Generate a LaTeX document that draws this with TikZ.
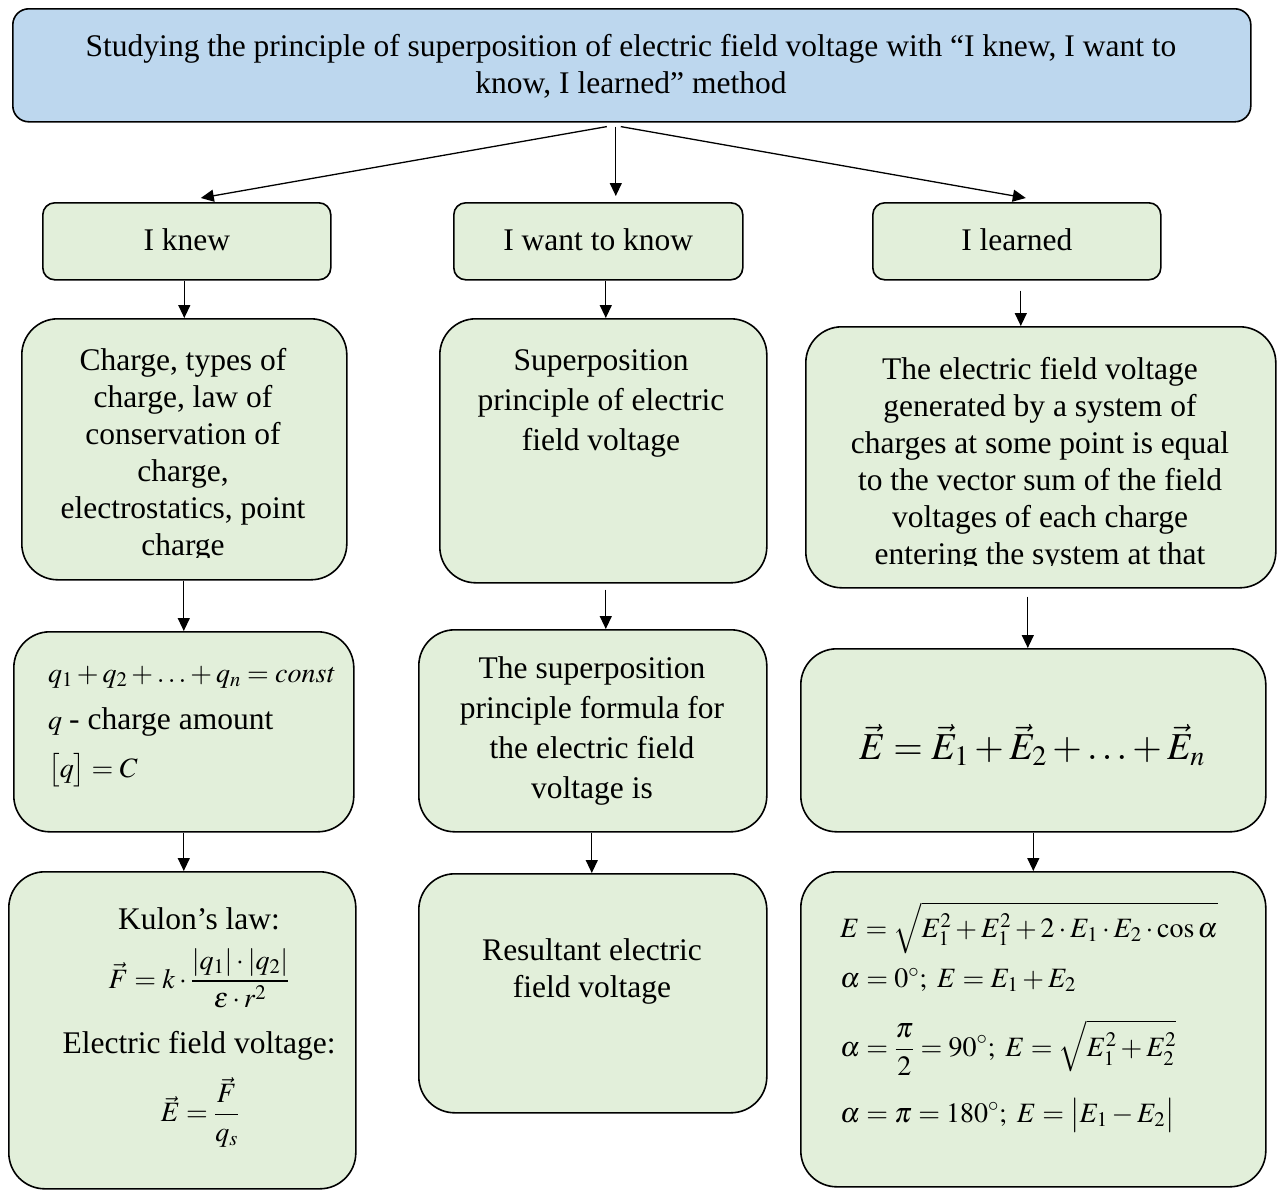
\documentclass[tikz,border=0pt]{standalone}
\usepackage{mathptmx}
\usepackage{fontspec}
\setmainfont{Liberation Serif}
\usetikzlibrary{arrows.meta,calc}
\definecolor{gfill}{RGB}{226,239,218}
\definecolor{bfill}{RGB}{189,215,238}
\begin{document}
\begin{tikzpicture}[x=1pt,y=-1pt,
  box/.style={draw=black, line width=1.6pt, fill=gfill, rounded corners=36pt, inner sep=0pt, anchor=north west},
  hbox/.style={box, rounded corners=12pt},
  txt/.style={align=center, inner sep=0pt, font=\fontsize{31.5}{37}\selectfont},
  txtw/.style={align=center, inner sep=0pt, font=\fontsize{31.5}{40}\selectfont},
  mth/.style={inner sep=0pt, anchor=west, font=\fontsize{28}{34}\selectfont},
  arr/.style={line width=1.3pt, -{Triangle[length=13pt,width=12pt]}}]
\useasboundingbox (0,0) rectangle (1277,1189);
% title
\node[box, fill=bfill, rounded corners=16pt, minimum width=1238pt, minimum height=113pt] (title) at (12,8) {};
\node[txt] (titlet) at (631,66) {Studying the principle of superposition of electric field voltage with “I knew, I want to\\know, I learned” method};
% headers
\node[hbox, minimum width=288pt, minimum height=77pt] (knew) at (42,202) {};
\node[txt] (knewt) at ([yshift=2pt]knew.center) {I knew};
\node[hbox, minimum width=289pt, minimum height=77pt] (want) at (453,202) {};
\node[txt] (wantt) at ([yshift=2pt]want.center) {I want to know};
\node[hbox, minimum width=288pt, minimum height=77pt] (learned) at (872,202) {};
\node[txt] (learnedt) at ([yshift=2pt]learned.center) {I learned};
% row 2
\node[box, minimum width=325pt, minimum height=261pt] (k2) at (21,318) {};
\node[box, minimum width=327pt, minimum height=264pt] (w2) at (439,318) {};
\node[box, minimum width=470pt, minimum height=261pt] (l2) at (805,326) {};
\begin{scope}
\clip (21,318) rectangle (346,557);
\node[txt] (k2t) at (183,455) {Charge, types of\\charge, law of\\conservation of\\charge,\\electrostatics, point\\charge};
\end{scope}
\node[txtw] (w2t) at (601,403) {Superposition\\principle of electric\\field voltage};
\begin{scope}
\clip (805,326) rectangle (1275,565);
\node[txt] (l2t) at (1040,464) {The electric field voltage\\generated by a system of\\charges at some point is equal\\to the vector sum of the field\\voltages of each charge\\entering the system at that};
\end{scope}
% row 3
\node[box, minimum width=340pt, minimum height=200pt] (k3) at (13,631) {};
\node[box, minimum width=348pt, minimum height=202pt] (w3) at (418,629) {};
\node[box, minimum width=465pt, minimum height=183pt] (l3) at (800,648) {};
\node[mth] (k3a) at (48,677) {$q_1+q_2+\ldots+q_n=\mathit{const}$};
\node[mth] (k3b) at (48,722) {$q$\ {\fontsize{31.5}{37}\selectfont - charge amount}};
\node[mth] (k3c) at (48,770) {$\bigl[q\bigr]=C$};
\node[txtw] (w3t) at (592,731) {The superposition\\principle formula for\\the electric field\\voltage is};
\node[inner sep=0pt, font=\fontsize{38}{44}\selectfont] (l3t) at (1032,745) {$\vec E=\vec E_1+\vec E_2+\ldots+\vec E_n$};
% row 4
\node[box, minimum width=347pt, minimum height=317pt] (k4) at (8,871) {};
\node[box, minimum width=348pt, minimum height=239pt] (w4) at (418,873) {};
\node[box, minimum width=465pt, minimum height=315pt] (l4) at (800,871) {};
\node[txt] (k4a) at (199,919) {Kulon’s law:};
\node[mth, anchor=center] (k4b) at (199,978) {$\displaystyle \vec F=k\cdot\frac{|q_1|\cdot|q_2|}{\varepsilon\cdot r^2}$};
\node[txt] (k4c) at (199,1046) {Electric field voltage:};
\node[mth, anchor=center] (k4d) at (200,1112) {$\displaystyle \vec E=\frac{\vec F}{q_s}$};
\node[txt] (w4t) at (592,971) {Resultant electric\\field voltage};
\node[mth] (l4a) at (840,928) {$E=\sqrt{E_1^2+E_1^2+2\cdot E_1\cdot E_2\cdot\cos\alpha}$};
\node[mth] (l4b) at (840,980) {$\alpha=0^\circ;\ E=E_1+E_2$};
\node[mth] (l4c) at (840,1048) {$\displaystyle\alpha=\frac{\pi}{2}=90^\circ;\ E=\sqrt{E_1^2+E_2^2}$};
\node[mth] (l4d) at (840,1115) {$\alpha=\pi=180^\circ;\ E=\bigl|E_1-E_2\bigr|$};
% arrows
\draw[arr] ([xshift=-25pt,yshift=-4pt]title.south) -- ([xshift=14pt,yshift=4pt]knew.north);
\draw[arr] ([xshift=-16pt,yshift=-4pt]title.south) -- ([xshift=17.5pt,yshift=6pt]want.north);
\draw[arr] ([xshift=-11pt,yshift=-4pt]title.south) -- ([xshift=9pt,yshift=4pt]learned.north);
\draw[arr] (k2.north |- knew.south) -- (k2.north);
\draw[arr] ([xshift=2.5pt]w2.north |- want.south) -- ([xshift=2.5pt]w2.north);
\draw[arr] ([xshift=4pt,yshift=-10pt]learned.south) -- ([xshift=4pt]learned.south |- l2.north);
\draw[arr] (k3.north |- k2.south) -- (k3.north);
\draw[arr, shorten <=6pt] ([xshift=2.5pt]w2.south) -- ([xshift=2.5pt]w2.south |- w3.north);
\draw[arr, shorten <=8pt] ([xshift=-13pt]l2.south) -- ([xshift=-13pt]l2.south |- l3.north);
\draw[arr] (k3.south) -- (k3.south |- k4.north);
\draw[arr] ([xshift=-1pt]w3.south) -- ([xshift=-1pt]w3.south |- w4.north);
\draw[arr] (l3.south) -- (l3.south |- l4.north);
\end{tikzpicture}
\end{document}
